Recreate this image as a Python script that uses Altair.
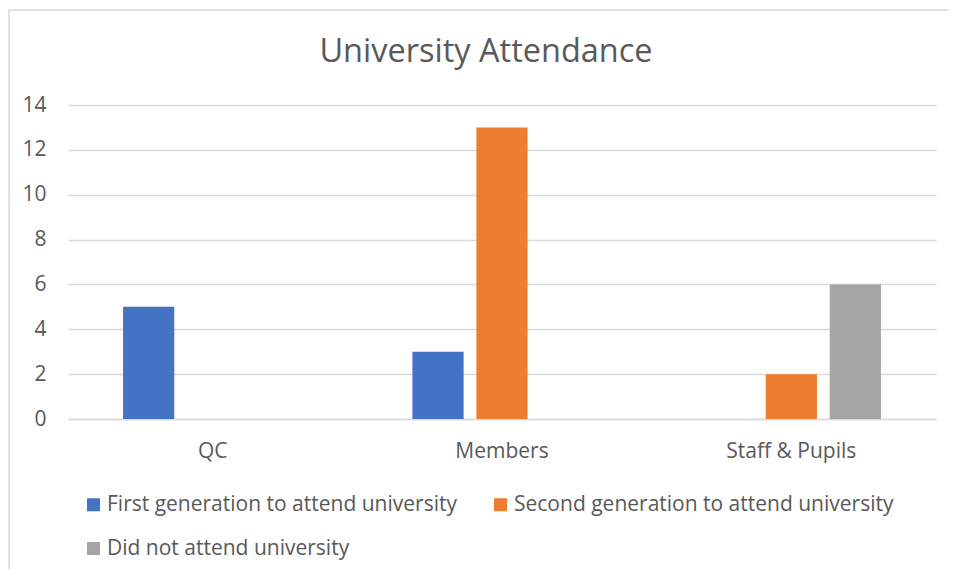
import altair as alt
import pandas as pd

categories = ["QC", "Members", "Staff & Pupils"]
series = ["First generation to attend university",
          "Second generation to attend university",
          "Did not attend university"]
first_gen = [5, 3, 0]
second_gen = [0, 13, 2]
did_not = [0, 0, 6]
colors = ["#4472C4", "#ED7D31", "#A5A5A5"]
y_ticks = [0, 2, 4, 6, 8, 10, 12, 14]
title_text = "University Attendance"

rows = []
for i, c in enumerate(categories):
    for s, vals in zip(series, [first_gen, second_gen, did_not]):
        rows.append({"Category": c, "Series": s, "Value": vals[i]})
df = pd.DataFrame(rows)

# legend lays out column-major: order so rows read First, Second / Did not
legend_order = [series[0], series[2], series[1]]
legend_colors = [colors[0], colors[2], colors[1]]

FONT = "Open Sans"
GREY = "#595959"

bars = alt.Chart(df).mark_bar().encode(
    x=alt.X("Category:N", sort=categories, title=None,
            scale=alt.Scale(paddingInner=0, paddingOuter=0),
            axis=alt.Axis(labelAngle=0, labelFontSize=21, labelColor=GREY,
                          labelFont=FONT, labelPadding=21, ticks=False,
                          domainColor="#D9D9D9", domainWidth=1.5)),
    xOffset=alt.XOffset("Series:N", sort=series,
                        scale=alt.Scale(paddingInner=0.2, paddingOuter=0.86)),
    y=alt.Y("Value:Q", title=None,
            scale=alt.Scale(domain=[0, 14], nice=False),
            axis=alt.Axis(values=y_ticks, labelFontSize=21, labelColor=GREY,
                          labelFont=FONT, labelPadding=22, ticks=False,
                          domain=False, gridColor="#D9D9D9", gridWidth=1.5)),
    color=alt.Color("Series:N",
                    scale=alt.Scale(domain=legend_order, range=legend_colors),
                    legend=alt.Legend(title=None, orient="none", legendX=15,
                                      legendY=389, columns=2, columnPadding=33,
                                      rowPadding=22, symbolType="square",
                                      symbolSize=169, symbolStrokeWidth=0,
                                      labelFontSize=21, labelColor=GREY,
                                      labelFont=FONT, labelLimit=600,
                                      symbolOffset=0, labelOffset=3)),
)

title = alt.Chart(pd.DataFrame({"t": [title_text]})).mark_text(
    fontSize=32.5, font=FONT, color=GREY, align="center", baseline="middle",
    clip=False
).encode(text="t:N", x=alt.value(418), y=alt.value(-53))

border = alt.Chart(pd.DataFrame({"a": [0]})).mark_rect(
    fill=None, stroke="#D9D9D9", strokeWidth=1.5, clip=False
).encode(x=alt.value(-59), x2=alt.value(887), y=alt.value(-95), y2=alt.value(470))

chart = alt.layer(border, title, bars).properties(
    width=868, height=314,
    autosize=alt.AutoSizeParams(type="none"),
    padding={"left": 60, "top": 97, "right": 13, "bottom": 150},
).configure_view(stroke=None)

chart.save("out.html", embed_options={"renderer": "svg", "actions": False})
